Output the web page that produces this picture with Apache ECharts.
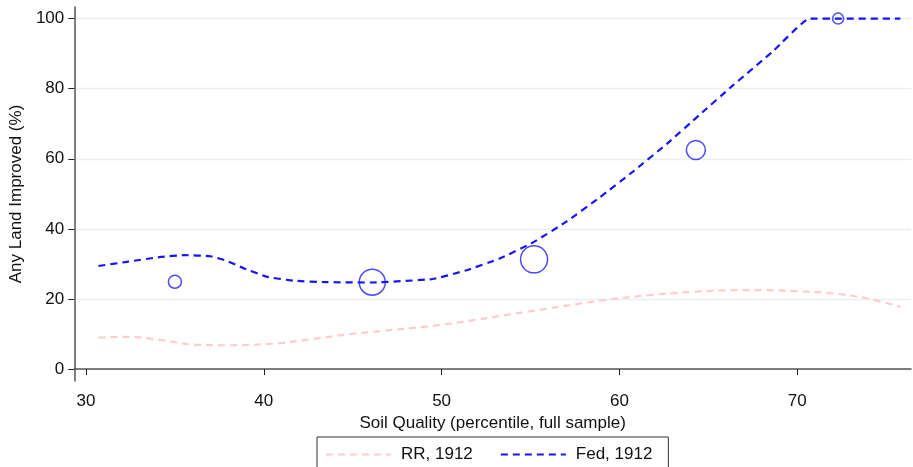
<!DOCTYPE html>
<html>
<head>
<meta charset="utf-8">
<script src="https://cdn.jsdelivr.net/npm/echarts@6/dist/echarts.min.js"></script>
<style>
  html, body { margin: 0; padding: 0; background: #fff; }
  #main { width: 913px; height: 467px; }
</style>
</head>
<body>
<div id="main"></div>
<script>
var chartDom = document.getElementById('main');
var myChart = echarts.init(chartDom);
var option;

// 平滑曲线 RR, 1912
const rrX = [30.7, 32.3, 34.2, 36.0, 37.9, 40.7, 42.6, 44.9, 49.9, 55.0, 58.9, 61.7, 64.0, 66.4, 68.3, 70.0, 72.0, 73.9, 75.8];
const rrY = [9.0, 9.2, 8.3, 7.0, 6.8, 7.3, 8.5, 10.0, 12.6, 16.5, 19.5, 21.1, 22.0, 22.5, 22.5, 22.2, 21.6, 20.2, 17.8];
// 平滑曲线 Fed, 1912
const fedX = [30.7, 32.3, 34.2, 35.5, 37.0, 37.9, 38.9, 40.2, 41.7, 43.5, 46.1, 49.5, 51.4, 53.3, 55.2, 57.0, 58.9, 60.8, 62.7, 64.5, 66.4, 68.6, 70.7, 72.5, 75.8];
const fedY = [29.4, 30.6, 32.0, 32.5, 32.2, 30.9, 28.7, 26.3, 25.2, 24.8, 24.7, 25.7, 28.2, 31.6, 36.3, 42.0, 49.0, 56.5, 64.4, 72.5, 81.0, 90.5, 100, 100, 100];
// 分组均值（圆圈大小 = 样本量）
const binX = [35.0, 46.1, 55.2, 64.3, 72.3];
const binY = [24.9, 24.8, 31.3, 62.5, 100];
const binSize = [13, 26, 27, 19, 11];

const xTicks = [30, 40, 50, 60, 70];
const yTicks = [0, 20, 40, 60, 80, 100];

const zip = (a, b) => a.map((v, i) => [v, b[i]]);

const axisColor = '#555';
const font = 'Liberation Sans, Arial, sans-serif';

option = {
  animation: false,
  grid: { left: 74, right: 2, top: 7, bottom: 86 },
  legend: {
    data: ['RR, 1912', 'Fed, 1912'],
    left: 317,
    top: 437,
    padding: [9, 16, 14, 8],
    itemGap: 27,
    itemWidth: 65,
    itemHeight: 10,
    itemStyle: { opacity: 0 },
    borderColor: '#333',
    borderWidth: 1,
    textStyle: { fontFamily: font, fontSize: 17, color: '#111', padding: [0, 0, 0, 5] }
  },
  xAxis: {
    type: 'value',
    min: 29.34,
    max: 76.4,
    name: 'Soil Quality (percentile, full sample)',
    nameLocation: 'middle',
    nameGap: 28,
    nameTextStyle: { fontFamily: font, fontSize: 17, color: '#111' },
    axisLine: { show: true, lineStyle: { color: axisColor, width: 1.5 } },
    axisTick: { show: true, length: 6, customValues: xTicks, lineStyle: { color: '#222' } },
    axisLabel: { customValues: xTicks, margin: 12, fontFamily: font, fontSize: 17, color: '#111' },
    splitLine: { show: false }
  },
  yAxis: {
    type: 'value',
    min: -3.4,
    max: 103.3,
    name: 'Any Land Improved (%)',
    nameLocation: 'middle',
    nameGap: 45,
    nameTextStyle: { fontFamily: font, fontSize: 17, color: '#111' },
    axisLine: { show: true, lineStyle: { color: axisColor, width: 1.5 } },
    axisTick: { show: true, length: 6, customValues: yTicks, lineStyle: { color: '#222' } },
    axisLabel: { customValues: yTicks, margin: 10, fontFamily: font, fontSize: 17, color: '#111' },
    splitLine: { show: true, lineStyle: { color: '#e8f0f1', width: 1.3 } }
  },
  series: [
    {
      name: 'RR, 1912',
      type: 'line',
      data: zip(rrX, rrY),
      smooth: 0.35,
      symbol: 'none',
      lineStyle: { color: '#ffcccc', width: 2.2, type: [7, 5] },
      itemStyle: { color: '#ffcccc' }
    },
    {
      name: 'Fed, 1912',
      type: 'line',
      data: zip(fedX, fedY),
      smooth: 0.12,
      symbol: 'none',
      lineStyle: { color: '#1515f5', width: 2.2, type: [7, 5] },
      itemStyle: { color: '#1515f5' }
    },
    {
      name: 'bins',
      type: 'scatter',
      data: binX.map((x, i) => [x, binY[i], binSize[i]]),
      symbol: 'circle',
      symbolSize: function (val) { return val[2]; },
      itemStyle: { color: 'rgba(0,0,0,0)', borderColor: '#2020f0', borderWidth: 1.5 },
      z: 5
    }
  ]
};

option && myChart.setOption(option);
</script>
</body>
</html>
